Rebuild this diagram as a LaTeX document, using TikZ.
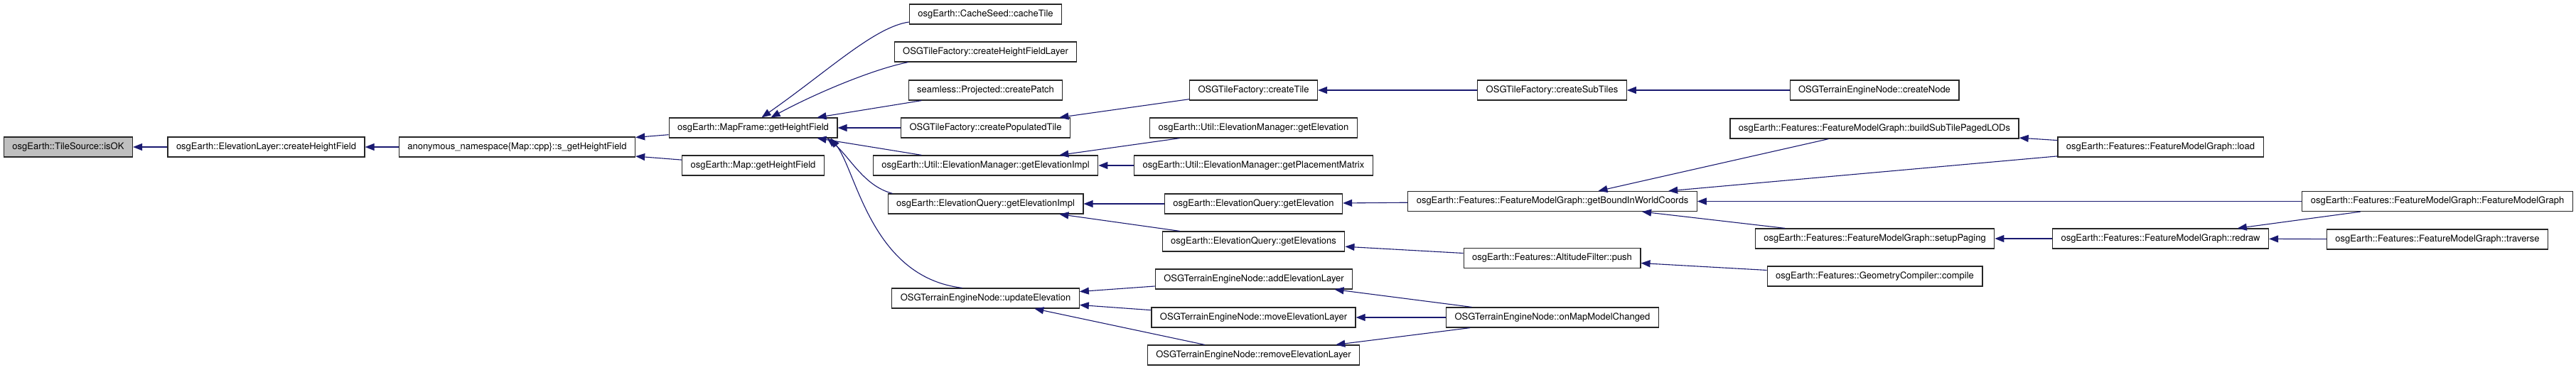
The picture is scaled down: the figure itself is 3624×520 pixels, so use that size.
\documentclass[tikz,border=0pt]{standalone}
\usepackage{fontspec}
\setmainfont{TeX Gyre Heros}
\usepackage{xcolor}
\usepackage{tikz}
\usetikzlibrary{arrows.meta,positioning}
\definecolor{edgeblue}{HTML}{191970}

\begin{document}
\begin{tikzpicture}[x=1pt,y=-1pt]
            \tikzset{
                fn/.style={
                    draw=black!85,
                    line width=1.2pt,
                    minimum height=28pt,
                    inner xsep=12pt,
                    inner ysep=0pt,
                    font=\fontsize{13}{15}\selectfont
                }
            }
            \tikzset{
                focus/.style={
                    fn,
                    fill=black!25
                }
            }
            \tikzset{
                calls/.style={
                    -{Triangle[length=13pt,width=10pt]},
                    line width=1.1pt,
                    draw=edgeblue
                }
            }
            \useasboundingbox (0,0) rectangle (3624,520);

            \node[focus] (isok) at (96,207) {osgEarth::TileSource::isOK};
            \node[fn] (elch) at (374.5,207) {osgEarth::ElevationLayer::createHeightField};
            \node[fn] (sget) at (727.5,207) {anonymous\_namespace\{Map::cpp\}::s\_getHeightField};
            \node[fn] (mfget) at (1059.5,180) {osgEarth::MapFrame::getHeightField};
            \node[fn] (mapget) at (1059.5,233) {osgEarth::Map::getHeightField};

            \node[fn] (cache) at (1386.5,20) {osgEarth::CacheSeed::cacheTile};
            \node[fn] (hfl) at (1386.5,73) {OSGTileFactory::createHeightFieldLayer};
            \node[fn] (patch) at (1386.5,127) {seamless::Projected::createPatch};
            \node[fn] (poptile) at (1386.5,180) {OSGTileFactory::createPopulatedTile};
            \node[fn] (emimpl) at (1386.5,233) {osgEarth::Util::ElevationManager::getElevationImpl};
            \node[fn] (eqimpl) at (1386.5,287) {osgEarth::ElevationQuery::getElevationImpl};
            \node[fn] (upelev) at (1386.5,420) {OSGTerrainEngineNode::updateElevation};

            \node[fn] (tile) at (1763.5,127) {OSGTileFactory::createTile};
            \node[fn] (emget) at (1763.5,180) {osgEarth::Util::ElevationManager::getElevation};
            \node[fn] (emmat) at (1763.5,233) {osgEarth::Util::ElevationManager::getPlacementMatrix};
            \node[fn] (eqget) at (1763.5,287) {osgEarth::ElevationQuery::getElevation};
            \node[fn] (eqgets) at (1763.5,340) {osgEarth::ElevationQuery::getElevations};
            \node[fn] (addl) at (1764,393) {OSGTerrainEngineNode::addElevationLayer};
            \node[fn] (movel) at (1763.5,447) {OSGTerrainEngineNode::moveElevationLayer};
            \node[fn] (reml) at (1763.5,500) {OSGTerrainEngineNode::removeElevationLayer};

            \node[fn] (subtiles) at (2183.5,127) {OSGTileFactory::createSubTiles};
            \node[fn] (bound) at (2184,283.5) {osgEarth::Features::FeatureModelGraph::getBoundInWorldCoords};
            \node[fn] (push) at (2183.5,363.5) {osgEarth::Features::AltitudeFilter::push};
            \node[fn] (mapchg) at (2184,447) {OSGTerrainEngineNode::onMapModelChanged};

            \node[fn] (cnode) at (2637,127) {OSGTerrainEngineNode::createNode};
            \node[fn] (sublods) at (2637,181) {osgEarth::Features::FeatureModelGraph::buildSubTilePagedLODs};
            \node[fn] (paging) at (2637.5,336) {osgEarth::Features::FeatureModelGraph::setupPaging};
            \node[fn] (compile) at (2637.5,389) {osgEarth::Features::GeometryCompiler::compile};

            \node[fn] (load) at (3039.5,207) {osgEarth::Features::FeatureModelGraph::load};
            \node[fn] (redraw) at (3039.5,336) {osgEarth::Features::FeatureModelGraph::redraw};

            \node[fn] (fmg) at (3429,283.5) {osgEarth::Features::FeatureModelGraph::FeatureModelGraph};
            \node[fn] (trav) at (3429,337) {osgEarth::Features::FeatureModelGraph::traverse};

            \draw[calls] (elch) -- (isok);
            \draw[calls] (sget) -- (elch);
            \draw[calls] (mfget) -- (sget);
            \draw[calls] (mapget) -- (sget);

            % callers of MapFrame::getHeightField
            \draw[calls] ([yshift=-11pt]cache.west) .. controls (1230,38) and (1165,100) .. ([xshift=12pt]mfget.north);
            \draw[calls] ([xshift=20pt]hfl.south west) .. controls (1230,97) and (1150,130) .. ([xshift=25pt]mfget.north);
            \draw[calls] (patch) -- (mfget);
            \draw[calls] (poptile) -- (mfget);
            \draw[calls] (emimpl) -- (mfget);
            \draw[calls] ([xshift=7pt]eqimpl.north west) .. controls (1215,262) and (1195,220) .. ([xshift=-15pt]mfget.south east);
            \draw[calls] ([xshift=-33pt]upelev.north) .. controls (1225,390) and (1205,240) .. ([xshift=-10pt]mfget.south east);

            \draw[calls] (tile) -- (poptile);
            \draw[calls] (subtiles) -- (tile);
            \draw[calls] (cnode) -- (subtiles);
            \draw[calls] (emget) -- (emimpl);
            \draw[calls] (emmat) -- (emimpl);
            \draw[calls] (eqget) -- (eqimpl);
            \draw[calls] (eqgets) -- (eqimpl);
            \draw[calls] (addl) -- (upelev);
            \draw[calls] (movel) -- (upelev);
            \draw[calls] (reml) -- (upelev);

            \draw[calls] (bound) -- (eqget);
            \draw[calls] (push) -- (eqgets);
            \draw[calls] (mapchg) -- (addl);
            \draw[calls] (mapchg) -- (movel);
            \draw[calls] (mapchg) -- (reml);

            \draw[calls] (sublods) -- (bound);
            \draw[calls] (load) -- (bound);
            \draw[calls] (fmg) -- (bound);
            \draw[calls] (paging) -- (bound);
            \draw[calls] (compile) -- (push);

            \draw[calls] (load) -- (sublods);
            \draw[calls] (redraw) -- (paging);
            \draw[calls] (fmg) -- (redraw);
            \draw[calls] (trav) -- (redraw);
        \end{tikzpicture}
\end{document}
